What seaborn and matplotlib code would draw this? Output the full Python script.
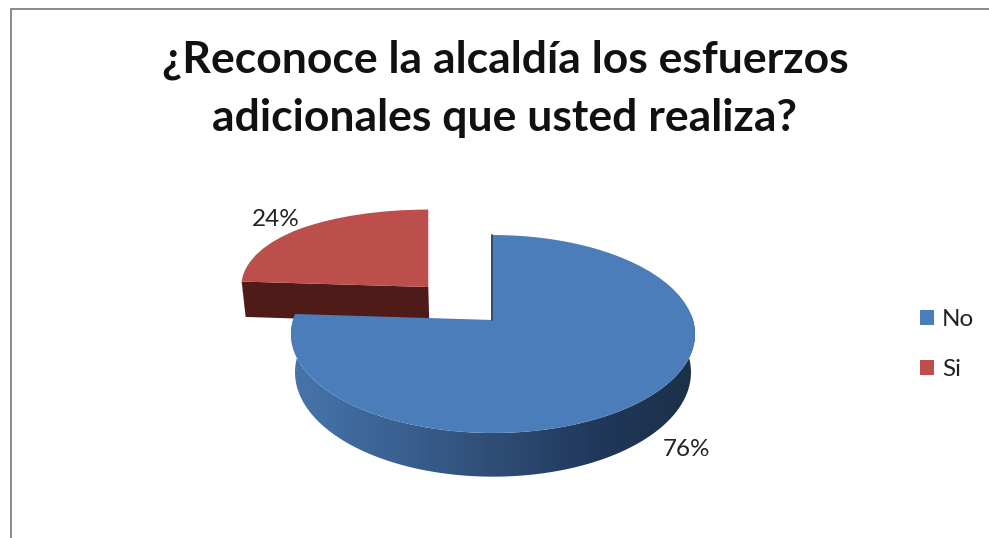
import numpy as np
import matplotlib
matplotlib.use("Agg")
import matplotlib.pyplot as plt
import seaborn as sns
from matplotlib.colors import LinearSegmentedColormap
from matplotlib.patches import Polygon
from matplotlib.transforms import Transform

# Survey answers and headline text
categories = ["No", "Si"]
shares = [76, 24]
title_lines = ["¿Reconoce la alcaldía los esfuerzos", "adicionales que usted realiza?"]

# Slice styling
slice_colors = ["#4a7dba", "#bc4e4b"]
red_wall_color = "#4f1b18"
blue_wall_ramp = ["#4775ac", "#3a6293", "#2f4d76", "#20385a", "#1b3048"]
slice_offsets = [0, 0.49]


class TiltedDisc(Transform):
    """Projects the unit pie onto a tilted plane, in canvas pixels."""
    input_dims = 2
    output_dims = 2

    def __init__(self, apex=(493, 320), rx=200, ry=97, tilt=0.1415, xtilt=0.1415, drop=0.0):
        super().__init__()
        self.apex, self.rx, self.ry = apex, rx, ry
        self.tilt, self.xtilt, self.drop = tilt, xtilt, drop

    def transform_non_affine(self, values):
        values = np.asarray(values, dtype=float)
        u, v = values[:, 0], values[:, 1]
        return np.column_stack([
            self.apex[0] + self.rx * u / (1 + self.xtilt * v),
            self.apex[1] - (self.ry * v - self.drop) / (1 + self.tilt * v),
        ])


def arc(center, start, stop, n=160):
    t = np.radians(np.linspace(start, stop, n))
    return np.column_stack([center[0] + np.cos(t), center[1] + np.sin(t)])


sns.set_theme(style="white")
plt.rcParams["font.family"] = ["Lato", "DejaVu Sans"]

fig = plt.figure(figsize=(9.89, 5.38), dpi=100, facecolor="white")
ax = fig.add_axes([11 / 989, 0, 978 / 989, 529 / 538])

wedges, _, pct_texts = ax.pie(
    shares,
    colors=slice_colors,
    explode=slice_offsets,
    startangle=90,
    counterclock=False,
    autopct="%.0f%%",
    frame=True,
)
ax.set_aspect("auto")
ax.set_xlim(11, 989)
ax.set_ylim(538, 9)
ax.set_xticks([])
ax.set_yticks([])
ax.set_autoscale_on(False)

# Frame around the chart area: only the top and left rules show
for side, spine in ax.spines.items():
    spine.set_visible(side in ("top", "left"))
    spine.set_color("#8a8a8a")
    spine.set_linewidth(1.4)

top_plane = TiltedDisc()
base_plane = TiltedDisc(rx=196, drop=37.5)
red_top_plane = TiltedDisc(apex=(491, 320), rx=187, xtilt=0.0)
red_base_plane = TiltedDisc(apex=(491, 320), rx=184, xtilt=0.0, drop=37.5)

blue, red = wedges
blue.set_transform(top_plane + ax.transData)
red.set_transform(red_top_plane + ax.transData)
blue.set_edgecolor("none")
red.set_edgecolor("none")
red.set_zorder(2)
blue.set_zorder(5)

# Cut face of the pulled-out slice, running along its lower radius
rim = np.array([red.center, arc(red.center, red.theta2, red.theta2, 1)[0]])
rim_top = red_top_plane.transform_non_affine(rim)
rim_base = red_base_plane.transform_non_affine(rim)
ax.add_patch(Polygon(np.vstack([rim_top, rim_base[::-1]]), closed=True,
                     facecolor=red_wall_color, edgecolor="none", zorder=1))

# Curved outer wall of the large slice, shaded from left to right
sweep = arc(blue.center, blue.theta1, 3)
wall_outline = np.vstack([top_plane.transform_non_affine(sweep),
                          base_plane.transform_non_affine(sweep)[::-1]])
wall = Polygon(wall_outline, closed=True, facecolor="none", edgecolor="none", zorder=3)
ax.add_patch(wall)
ramp = LinearSegmentedColormap.from_list("blue_wall", blue_wall_ramp)
shade = ax.imshow(np.linspace(0, 1, 256)[None, :], cmap=ramp, aspect="auto",
                  extent=(290, 698, 480, 300), zorder=4, interpolation="bilinear")
shade.set_clip_path(wall)
ax.set_xlim(11, 989)
ax.set_ylim(538, 9)

# Dark sliver on the straight edge of the large slice
cut = np.array([blue.center, arc(blue.center, blue.theta2, blue.theta2, 1)[0]])
cut_px = top_plane.transform_non_affine(cut)
ax.plot(cut_px[:, 0] - 1, cut_px[:, 1], color="#1f3a5f", lw=1.3, zorder=6)

# Percentage labels sit just outside their slices
for text, xy in zip(pct_texts, [(686, 450), (276, 220)]):
    text.set_position(xy)
    text.set_fontsize(17.5)
    text.set_color("#222222")
    text.set_ha("center")
    text.set_va("center")
    text.set_zorder(8)

ax.legend(
    wedges, categories,
    loc="center left",
    bbox_to_anchor=(0.9294, 0.365),
    frameon=False,
    fontsize=17.5,
    handlelength=0.57,
    handleheight=0.57,
    handletextpad=0.33,
    labelspacing=1.2,
    labelcolor="#222222",
    borderpad=0,
    borderaxespad=0,
)

fig.text(505 / 989, 1 - 89 / 538, "\n".join(title_lines), ha="center", va="center",
         fontsize=32, fontweight="bold", color="#111111", linespacing=1.55)

fig.savefig("out.png", dpi=100, facecolor="white")
